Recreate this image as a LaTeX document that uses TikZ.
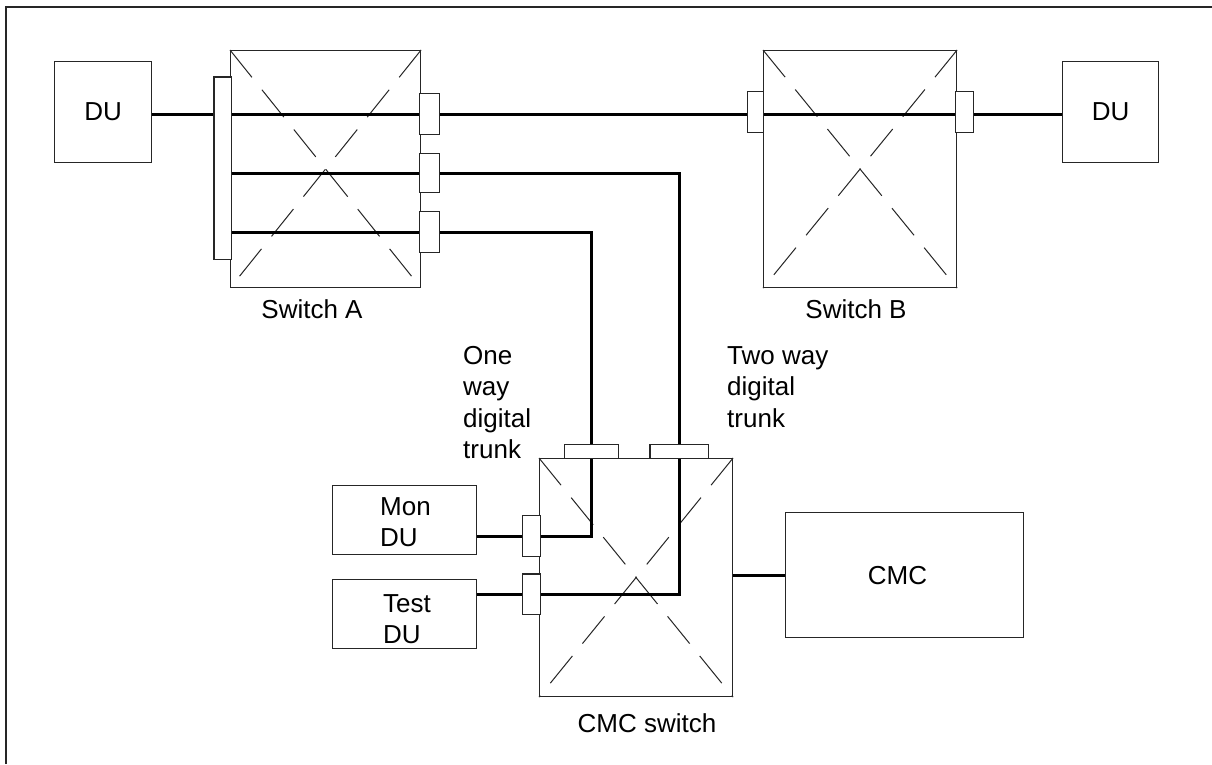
\documentclass[tikz,border=0pt]{standalone}
\usepackage{fontspec}
\setmainfont{Liberation Sans}
\begin{document}
\begin{tikzpicture}[x=1pt,y=-1pt,
  box/.style={draw=black!85,line width=1.1pt,fill=white,inner sep=0pt,anchor=north west},
  port/.style={draw=black!85,line width=1.1pt,fill=white,inner sep=0pt},
  diag/.style={draw=black!85,line width=1pt,dash pattern=on 35pt off 16pt},
  trunk/.style={line width=3pt,black},
  lbl/.style={inner sep=0pt,font=\fontsize{26}{31.5}\selectfont},
  every node/.style={font=\fontsize{26}{31.5}\selectfont}]
\useasboundingbox (0,0) rectangle (1212,764);
\draw[black!85,line width=1.2pt] (6,764) -- (6,7) -- (1212,7);
% main boxes
\node[box,minimum width=97pt,minimum height=101pt] (du1) at (54,61) {DU};
\node[box,minimum width=190pt,minimum height=237pt] (swA) at (230,50) {};
\node[box,minimum width=193pt,minimum height=237pt] (swB) at (763,50) {};
\node[box,minimum width=96pt,minimum height=101pt] (du2) at (1062,61) {DU};
\node[box,minimum width=193pt,minimum height=238pt] (swC) at (539,458) {};
\node[box,minimum width=144pt,minimum height=69pt] (mon) at (332,485) {};
\node[box,minimum width=144pt,minimum height=69pt] (test) at (332,579) {};
\node[box,minimum width=238pt,minimum height=125pt] (cmc) at (785,512) {};
\node[lbl] at ([xshift=-7pt]cmc.center) {CMC};
% diagonals
\foreach \s in {swA,swB,swC}{
  \draw[diag] (\s.north west) -- (\s.south east);
  \draw[diag] (\s.north east) -- (\s.south west);
}
% ports (positions)
\node[port,minimum width=16pt,minimum height=181pt,anchor=north west] (brk) at (214,77) {};
\node[port,minimum width=19pt,minimum height=40pt] (pA1) at (429.5,114) {};
\node[port,minimum width=19pt,minimum height=38pt] (pA2) at (429.5,173) {};
\node[port,minimum width=19pt,minimum height=40pt] (pA3) at (429.5,232) {};
\node[port,minimum width=15pt,minimum height=40pt] (pB1) at (755.5,112) {};
\node[port,minimum width=17pt,minimum height=40pt] (pB2) at (964.5,112) {};
\node[port,minimum width=53pt,minimum height=13pt] (pC1) at (591.5,451.5) {};
\node[port,minimum width=57pt,minimum height=13pt] (pC2) at (679,451.5) {};
\node[port,minimum width=17pt,minimum height=40pt] (pM) at (531.5,536) {};
\node[port,minimum width=17pt,minimum height=39pt] (pT) at (531.5,594) {};
% trunks
\begin{scope}[on background layer/.style={}]
\draw[trunk] (du1.east |- pA1) -- (brk.west |- pA1);
\draw[trunk] (swA.west |- pA1) -- (pA1.west);
\draw[trunk] (pA1.east) -- (pB1.west |- pA1);
\draw[trunk] (swB.west |- pA1) -- (swB.east |- pA1);
\draw[trunk] (pB2.east |- pA1) -- (du2.west |- pA1);
\draw[trunk] (swA.west |- pA2) -- (pA2.west);
\draw[trunk] (pA2.east) -- (pA2.east -| pC2) -- (pC2.north);
\draw[trunk] (swA.west |- pA3) -- (pA3.west);
\draw[trunk] (pA3.east) -- (pA3.east -| pC1) -- (pC1.north);
\draw[trunk] (pC1.south) -- (pC1.south |- pM) -- (pM.east);
\draw[trunk] (mon.east |- pM) -- (pM.west);
\draw[trunk] (pC2.south) -- (pC2.south |- pT) -- (pT.east);
\draw[trunk] (test.east |- pT) -- (pT.west);
\draw[trunk] (swC.east |- cmc) -- (cmc.west);
\end{scope}
% redraw ports on top
\foreach \p in {brk,pA1,pA2,pA3,pB1,pB2,pC1,pC2,pM,pT}{
  \fill[white] (\p.north west) rectangle (\p.south east);
  \draw[black!85,line width=1.1pt] (\p.north west) rectangle (\p.south east);
}
% labels
\node[lbl,anchor=base] (labA) at (312,318) {Switch A};
\node[lbl,anchor=base] (labB) at (856,318) {Switch B};
\node[lbl,anchor=base] (labC) at (647,732) {CMC switch};
\node[lbl,anchor=north west,align=left] (one) at (463,346) {One\\way\\digital\\trunk};
\node[lbl,anchor=north west,align=left] (two) at (727,346) {Two way\\digital\\trunk};
\node[lbl,anchor=north west,align=left] (monl) at (380,497) {Mon\\DU};
\node[lbl,anchor=north west,align=left] (testl) at (383,594) {Test\\DU};
\end{tikzpicture}
\end{document}
